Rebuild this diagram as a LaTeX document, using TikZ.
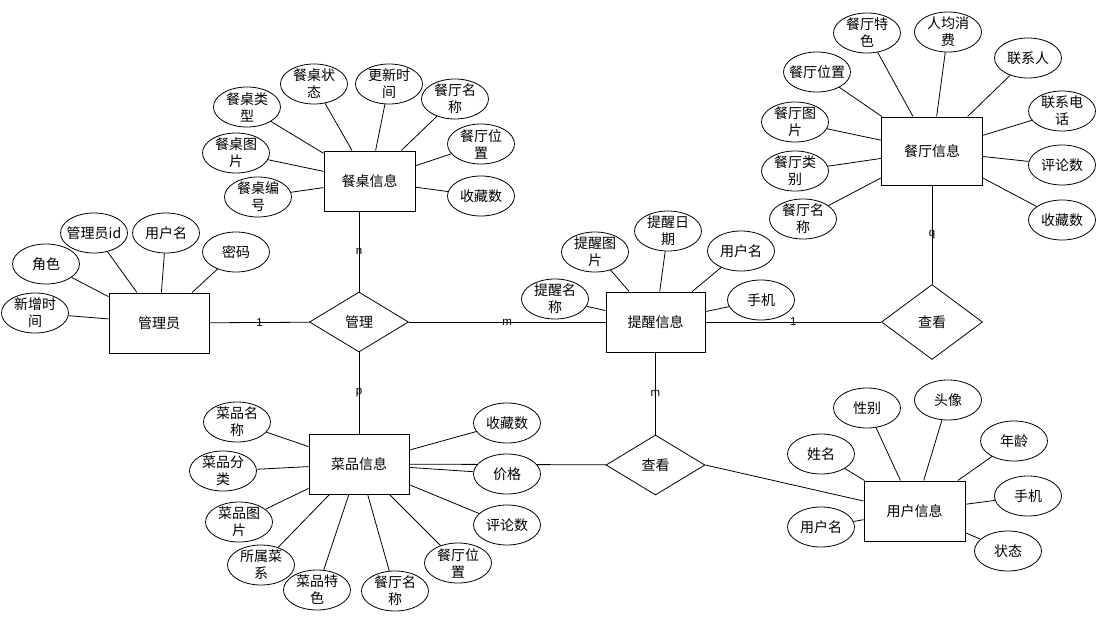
\documentclass[tikz,border=0pt]{standalone}
\usepackage{fontspec}
\setmainfont{Noto Sans CJK SC}
\newfontfamily\cardfont{Liberation Sans}
\usetikzlibrary{shapes.geometric,calc}
\pgfdeclarelayer{bg}
\pgfsetlayers{bg,main}
\newcommand\ERattr[3]{\node[attr,label={[atxt]center:#3}] (#1) at (#2) {};}
\begin{document}
\begin{tikzpicture}[x=1pt,y=-1pt,
 ent/.style={draw,line width=1pt,rectangle,minimum width=100pt,minimum height=60pt,inner sep=0pt,font=\fontsize{14}{17}\selectfont},
 attr/.style={draw,line width=0.8pt,ellipse,fill=white,minimum width=67pt,minimum height=40pt,inner sep=0pt},
 atxt/.style={align=center,inner sep=0pt,font=\fontsize{14}{17}\selectfont},
 rel/.style={draw,line width=0.8pt,diamond,fill=white,minimum width=99pt,minimum height=60pt,inner sep=0pt,font=\fontsize{14}{17}\selectfont},
 conn/.style={line width=0.8pt},
 card/.style={font=\cardfont\fontsize{11.5}{13}\selectfont,inner sep=0pt}
]
\useasboundingbox (0,0) rectangle (1101,629);
% entities
\node[ent] (admin) at (159,323) {管理员};
\node[ent,minimum width=91pt] (zhuo) at (369.5,181) {餐桌信息};
\node[ent,minimum width=99pt] (remind) at (655.5,322) {提醒信息};
\node[ent,minimum width=101pt,minimum height=68pt] (rest) at (932,151) {餐厅信息};
\node[ent] (dish) at (359,464) {菜品信息};
\node[ent,minimum width=101pt] (user) at (914.5,511) {用户信息};
% relations
\node[rel] (manage) at (359,322) {管理};
\node[rel,minimum width=101pt,minimum height=75pt] (view1) at (932,322) {查看};
\node[rel] (view2) at (655.5,465) {查看};
% admin attributes
\ERattr{a1}{94,233}{管理员id}
\ERattr{a2}{166,233}{用户名}
\ERattr{a3}{236,252}{密码}
\ERattr{a4}{46,264}{角色}
\ERattr{a5}{35,313}{新增时\\间}
% table attributes
\ERattr{z1}{247,107}{餐桌类\\型}
\ERattr{z2}{314,84}{餐桌状\\态}
\ERattr{z3}{389,84}{更新时\\间}
\ERattr{z4}{455,99}{餐厅名\\称}
\ERattr{z5}{481,144}{餐厅位\\置}
\ERattr{z6}{481,196}{收藏数}
\ERattr{z7}{236,153}{餐桌图\\片}
\ERattr{z8}{258,197}{餐桌编\\号}
% reminder attributes
\ERattr{r1}{555,299}{提醒名\\称}
\ERattr{r2}{595,252}{提醒图\\片}
\ERattr{r3}{668,231}{提醒日\\期}
\ERattr{r4}{741,251}{用户名}
\ERattr{r5}{761,300}{手机}
% restaurant attributes
\ERattr{s1}{867,33}{餐厅特\\色}
\ERattr{s2}{948,32}{人均消\\费}
\ERattr{s3}{1028,58}{联系人}
\ERattr{s4}{1062,111}{联系电\\话}
\ERattr{s5}{1062,165}{评论数}
\ERattr{s6}{1062,220}{收藏数}
\ERattr{s7}{817,72}{餐厅位置}
\ERattr{s8}{795,122}{餐厅图\\片}
\ERattr{s9}{795,171}{餐厅类\\别}
\ERattr{s10}{803,219}{餐厅名\\称}
% dish attributes
\ERattr{d1}{237,422}{菜品名\\称}
\ERattr{d2}{223,471}{菜品分\\类}
\ERattr{d3}{239,522}{菜品图\\片}
\ERattr{d4}{261,565}{所属菜\\系}
\ERattr{d5}{317,590}{菜品特\\色}
\ERattr{d6}{395,591}{餐厅名\\称}
\ERattr{d7}{458,563}{餐厅位\\置}
\ERattr{d8}{507,525}{评论数}
\ERattr{d9}{507,474}{价格}
\ERattr{d10}{507,423}{收藏数}
% user attributes
\ERattr{u1}{867,408}{性别}
\ERattr{u2}{948,400}{头像}
\ERattr{u3}{1014,441}{年龄}
\ERattr{u4}{1028,496}{手机}
\ERattr{u5}{1008,551}{状态}
\ERattr{u6}{821,454}{姓名}
\ERattr{u7}{821,527}{用户名}
% connectors
\begin{pgfonlayer}{bg}
\foreach \a in {a1,a2,a3,a4,a5} \draw[conn] (\a) -- (admin);
\foreach \a in {z1,z2,z3,z4,z5,z6,z7,z8} \draw[conn] (\a) -- (zhuo);
\foreach \a in {r1,r2,r3,r4,r5} \draw[conn] (\a) -- (remind);
\foreach \a in {s1,s2,s3,s4,s5,s6,s7,s8,s9,s10} \draw[conn] (\a) -- (rest);
\foreach \a in {d1,d2,d3,d4,d5,d6,d7,d8,d9,d10} \draw[conn] (\a) -- (dish);
\foreach \a in {u1,u2,u3,u4,u5,u6,u7} \draw[conn] (\a) -- (user);
\draw[conn] (dish) -- (view2);
\end{pgfonlayer}
\draw[conn] (admin) -- node[card] {1} (manage);
\draw[conn] (manage) -- node[card] {m} (remind);
\draw[conn] (manage) -- node[card] {n} (manage |- zhuo.south);
\draw[conn] (manage) -- node[card] {p} (dish);
\draw[conn] (remind) -- node[card] {1} (view1);
\draw[conn] (rest) -- node[card] {q} (view1);
\draw[conn] (remind) -- node[card] {m} (view2);
\draw[conn] (view2.east) -- ($(user.west)+(0,-10)$);
\end{tikzpicture}
\end{document}
